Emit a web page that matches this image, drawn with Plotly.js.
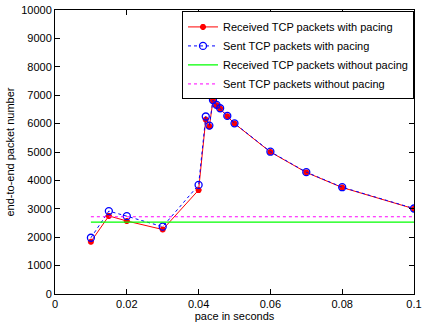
<!DOCTYPE html>
<html><head><meta charset="utf-8">
<script src="https://cdn.plot.ly/plotly-3.0.1.min.js"></script>
<style>html,body{margin:0;padding:0;background:#fff}#c{width:424px;height:328px}</style>
</head><body><div id="c"></div>
<script>
const pace = [0.01, 0.015, 0.02, 0.03, 0.04, 0.042, 0.043, 0.044, 0.045, 0.046, 0.048, 0.05, 0.06, 0.07, 0.08, 0.1];
const receivedPacing = [1840, 2750, 2570, 2270, 3660, 6140, 5900, 6810, 6650, 6530, 6260, 6000, 5000, 4280, 3750, 3000];
const sentPacing = [1980, 2920, 2740, 2370, 3840, 6250, 5930, 6830, 6660, 6540, 6270, 6010, 5010, 4290, 3760, 3010];
const paceRange = [0.01, 0.1];
const receivedNoPacing = [2530, 2530];
const sentNoPacing = [2720, 2720];
const xTicks = [0, 0.02, 0.04, 0.06, 0.08, 0.1];
const xTickText = ['0', '0.02', '0.04', '0.06', '0.08', '0.1'];
const yTicks = [0, 1000, 2000, 3000, 4000, 5000, 6000, 7000, 8000, 9000, 10000];

const font = 'Liberation Sans, Arial, sans-serif';
const traces = [
  {x: pace, y: receivedPacing, name: 'Received TCP packets with pacing', mode: 'lines+markers',
   line: {color: '#ff0000', width: 1}, marker: {symbol: 'asterisk-open', size: 5, color: '#ff0000', line: {color: '#ff0000', width: 2}}},
  {x: pace, y: sentPacing, name: 'Sent TCP packets with pacing', mode: 'lines+markers',
   line: {color: '#0000ff', width: 1, dash: 'dot'}, marker: {symbol: 'circle-open', size: 7, color: '#0000ff', line: {color: '#0000ff', width: 1.3}}},
  {x: paceRange, y: receivedNoPacing, name: 'Received TCP packets without pacing', mode: 'lines',
   line: {color: '#00ff00', width: 1.3}},
  {x: paceRange, y: sentNoPacing, name: 'Sent TCP packets without pacing', mode: 'lines',
   line: {color: '#ff00ff', width: 1, dash: 'dot'}}
];

const axisCommon = {showgrid: false, zeroline: false, showline: true, mirror: 'ticks', linecolor: '#000', linewidth: 1,
  ticks: 'inside', ticklen: 5, tickcolor: '#000', ticklabeloverflow: 'allow',
  tickfont: {family: font, size: 11, color: '#000'}};

const layout = {
  width: 424, height: 328,
  margin: {l: 55, r: 10, t: 10, b: 34},
  paper_bgcolor: '#fff', plot_bgcolor: '#fff',
  showlegend: true,
  legend: {x: 1, xanchor: 'right', y: 0.995, yanchor: 'top', bgcolor: '#fff', bordercolor: '#000', borderwidth: 1,
    font: {family: font, size: 11, color: '#000'}, itemwidth: 30, tracegroupgap: 0},
  xaxis: Object.assign({}, axisCommon, {range: [0, 0.1], tickvals: xTicks, ticktext: xTickText,
    title: {text: 'pace in seconds', font: {family: font, size: 11, color: '#000'}, standoff: 2}}),
  yaxis: Object.assign({}, axisCommon, {range: [0, 10000], tickvals: yTicks, ticktext: yTicks.map(String),
    title: {text: 'end-to-end packet number', font: {family: font, size: 11, color: '#000'}, standoff: 4}})
};

Plotly.newPlot('c', traces, layout, {displayModeBar: false, staticPlot: true});
</script></body></html>
